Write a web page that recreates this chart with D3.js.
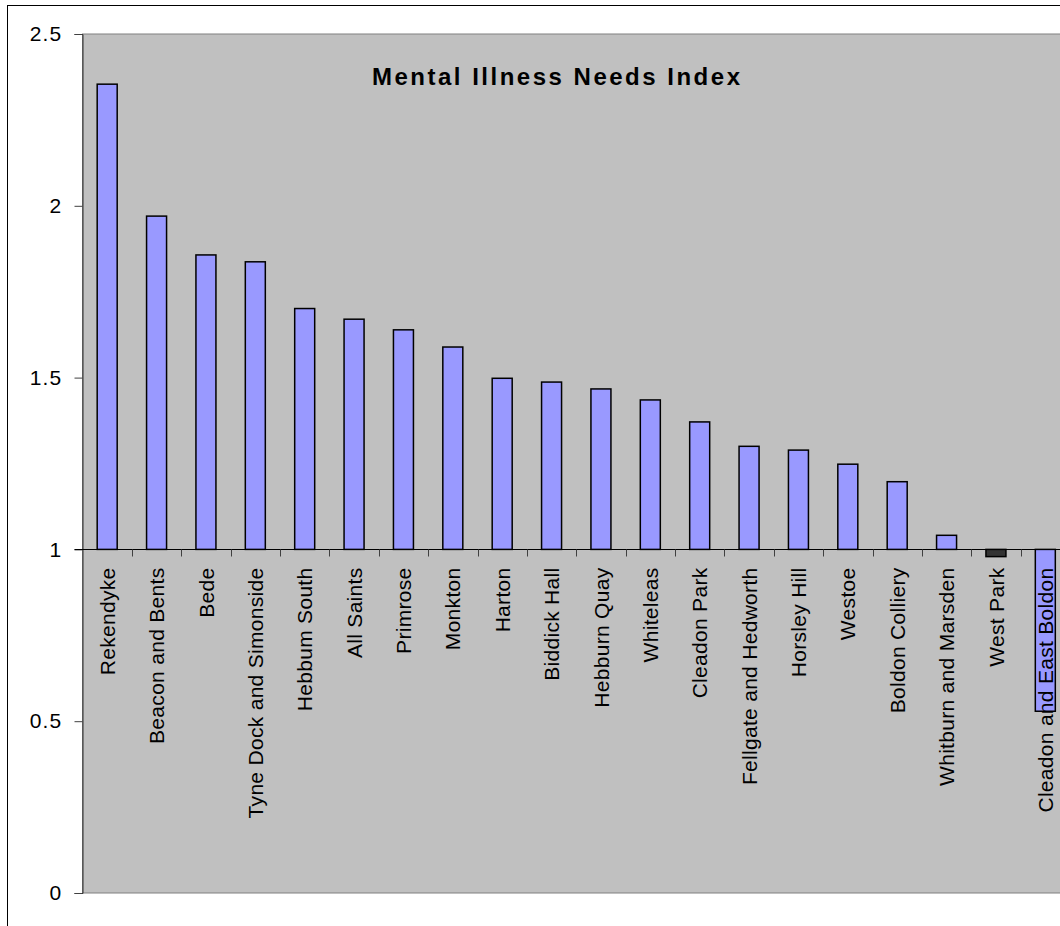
<!DOCTYPE html>
<html>
<head>
<meta charset="utf-8">
<script src="https://cdn.jsdelivr.net/npm/d3@7"></script>
<style>
  html, body { margin: 0; padding: 0; background: #fff; }
  svg { display: block; }
  text { font-family: "Liberation Sans", Arial, sans-serif; }
</style>
</head>
<body>
<svg id="chart" width="1060" height="926"></svg>
<script>
const categories = ["Rekendyke", "Beacon and Bents", "Bede", "Tyne Dock and Simonside", "Hebbum South",
  "All Saints", "Primrose", "Monkton", "Harton", "Biddick Hall", "Hebburn Quay", "Whiteleas",
  "Cleadon Park", "Fellgate and Hedworth", "Horsley Hill", "Westoe", "Boldon Colliery",
  "Whitburn and Marsden", "West Park", "Cleadon and East Boldon"];
const values = [2.354, 1.970, 1.857, 1.837, 1.701, 1.670, 1.639, 1.589, 1.498, 1.487, 1.467, 1.435,
  1.371, 1.300, 1.289, 1.248, 1.197, 1.041, 0.979, 0.529];
const highlighted = ["West Park"];
const yTicks = [0, 0.5, 1, 1.5, 2, 2.5];
const baseline = 1;
const title = "Mental Illness Needs Index";

const svg = d3.select("#chart");
const plot = { left: 82.5, right: 1070, top: 34, bottom: 893 };

// outer chart border
svg.append("rect").attr("x", 7.5).attr("y", 5.5).attr("width", 1200).attr("height", 1200)
  .attr("fill", "#fff").attr("stroke", "#000").attr("stroke-width", 1);

const x = d3.scaleBand().domain(categories).range([plot.left, plot.right]).paddingInner(0).paddingOuter(0);
const y = d3.scaleLinear().domain([0, 2.5]).range([plot.bottom, plot.top]);

// plot area
svg.append("rect").attr("x", plot.left).attr("y", plot.top)
  .attr("width", plot.right - plot.left).attr("height", plot.bottom - plot.top)
  .attr("fill", "#c0c0c0").attr("stroke", "#808080").attr("stroke-width", 1);

// y axis
const yAxis = d3.axisLeft(y).tickValues(yTicks).tickFormat(d3.format("")).tickSize(8).tickPadding(12);
const gy = svg.append("g").attr("transform", `translate(${plot.left},0)`).call(yAxis);
gy.select(".domain").attr("stroke", "#303030");
gy.selectAll(".tick line").attr("stroke", "#404040");
gy.selectAll(".tick text").attr("font-size", 21).attr("fill", "#000")
  .attr("letter-spacing", 1.2)
  .style("font-family", "'Liberation Sans', Arial, sans-serif");

// bars
const barW = 20;
svg.append("g").selectAll("rect").data(categories).join("rect")
  .attr("x", d => x(d) + x.bandwidth() / 2 - barW / 2)
  .attr("y", (d, i) => y(Math.max(values[i], baseline)))
  .attr("width", barW)
  .attr("height", (d, i) => Math.abs(y(values[i]) - y(baseline)))
  .attr("fill", d => highlighted.includes(d) ? "#333333" : "#9999ff")
  .attr("stroke", "#000").attr("stroke-width", 1.5);

// x axis (crossing at 1)
const y1 = Math.round(y(baseline)) + 0.5;
svg.append("line").attr("x1", plot.left - 8).attr("x2", plot.right)
  .attr("y1", y1).attr("y2", y1).attr("stroke", "#000").attr("stroke-width", 1);
svg.append("g").selectAll("line").data(categories.slice(1)).join("line")
  .attr("x1", d => Math.round(x(d)) + 0.5).attr("x2", d => Math.round(x(d)) + 0.5)
  .attr("y1", y1).attr("y2", y1 + 7).attr("stroke", "#404040").attr("stroke-width", 1);

// category labels
svg.append("g").selectAll("text").data(categories).join("text")
  .attr("transform", d => `translate(${x(d) + x.bandwidth() / 2},${y1 + 18}) rotate(-90)`)
  .attr("text-anchor", "end").attr("dy", "0.36em")
  .attr("font-size", 21).attr("letter-spacing", 0.3).attr("fill", "#000")
  .text(d => d);

// title
svg.append("text").attr("x", 372).attr("y", 85)
  .attr("font-size", 24).attr("font-weight", "bold").attr("fill", "#000")
  .attr("textLength", 368).attr("lengthAdjust", "spacing")
  .text(title);
</script>
</body>
</html>
